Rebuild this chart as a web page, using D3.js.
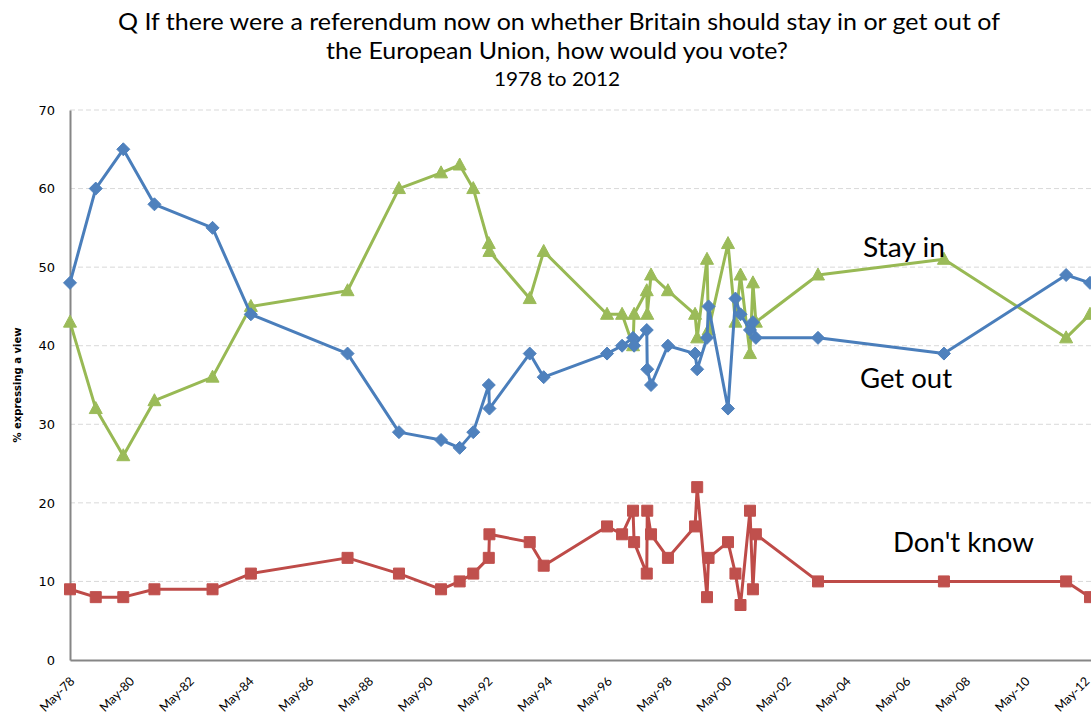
<!DOCTYPE html>
<html>
<head>
<meta charset="utf-8">
<script src="https://cdn.jsdelivr.net/npm/d3@7"></script>
<style>
  html, body { margin: 0; padding: 0; background: #fff; }
  svg { display: block; }
</style>
</head>
<body>
<svg id="chart" width="1091" height="715"></svg>
<script>
// ---- data ----
const surveyDates = ["1978-05-01","1979-03-12","1980-02-12","1981-02-27","1983-02-08","1984-05-22",
  "1987-08-18","1989-05-08","1990-10-05","1991-05-21","1991-11-03","1992-05-11","1992-05-19",
  "1993-09-24","1994-03-14","1996-04-27","1996-10-28","1997-03-11","1997-03-24","1997-08-26",
  "1997-09-01","1997-10-17","1998-05-12","1999-04-09","1999-05-05","1999-09-02","1999-09-21",
  "2000-05-16","2000-08-15","2000-10-16","2001-02-09","2001-03-17","2001-04-22","2003-05-22",
  "2007-08-10","2011-09-13","2012-07-01"];
const getOut   = [48,60,65,58,55,44,39,29,28,27,29,35,32,39,36,39,40,41,40,42,37,35,40,39,37,41,45,32,46,44,42,43,41,41,39,49,48];
const stayIn   = [43,32,26,33,36,45,47,60,62,63,60,53,52,46,52,44,44,40,44,47,44,49,47,44,41,51,42,53,43,49,39,48,43,49,51,41,44];
const dontKnow = [ 9, 8, 8, 9, 9,11,13,11, 9,10,11,13,16,15,12,17,16,19,15,11,19,16,13,17,22, 8,13,15,11, 7,19, 9,16,10,10,10, 8];
const xTickLabels = ["May-78","May-80","May-82","May-84","May-86","May-88","May-90","May-92","May-94",
  "May-96","May-98","May-00","May-02","May-04","May-06","May-08","May-10","May-12"];
const yTicks = [0,10,20,30,40,50,60,70];
const titleLines = ["Q If there were a referendum  now on whether Britain should stay in or get out of",
  "the European Union, how would you vote?"];
const subTitle = "1978 to 2012";
const seriesNames = ["Stay in","Get out","Don't know"];

// ---- layout ----
const W = 1091, H = 715;
const svg = d3.select("#chart");
const parse = d3.timeParse("%Y-%m-%d");
const parseTick = d3.timeParse("%b-%y");
const dates = surveyDates.map(parse);

const x = d3.scaleTime()
  .domain([parse("1978-05-01"), parse("2012-05-01")])
  .range([70, 1085]);
const xAxisScale = x.copy().domain([x.invert(70), x.invert(W + 10)]).range([70, W + 10]);
const y = d3.scaleLinear().domain([0, 70]).range([660, 110]);

// gridlines
svg.append("g").selectAll("line").data(yTicks.filter(d => d > 0)).join("line")
  .attr("x1", 70).attr("x2", W)
  .attr("y1", d => y(d)).attr("y2", d => y(d))
  .attr("stroke", "#d9d9d9").attr("stroke-width", 1).attr("stroke-dasharray", "5,3");

// y axis
const yAxis = svg.append("g").attr("transform", "translate(70,0)")
  .call(d3.axisLeft(y).tickValues(yTicks).tickSize(0).tickPadding(15));
yAxis.select(".domain").attr("stroke", "#868686").attr("stroke-width", 2);
yAxis.selectAll("text").attr("font-family", "DejaVu Sans, Verdana, sans-serif")
  .attr("font-size", 13).attr("fill", "#000");

// x axis
const xAxis = svg.append("g").attr("transform", "translate(0,660)")
  .call(d3.axisBottom(xAxisScale).tickValues(xTickLabels.map(parseTick)).tickSize(0)
    .tickFormat(d => d3.timeFormat("%b-%y")(d)));
xAxis.select(".domain").attr("stroke", "#868686").attr("stroke-width", 2);
xAxis.selectAll("text")
  .attr("font-family", "Lato, 'Open Sans', sans-serif").attr("font-size", 12.5).attr("fill", "#000")
  .attr("text-anchor", "end")
  .attr("dy", 0)
  .attr("transform", "translate(5,22) rotate(-45)")
  .attr("y", 0);

// y axis title
svg.append("text")
  .attr("transform", `translate(21,${y(35)}) rotate(-90)`)
  .attr("text-anchor", "middle")
  .attr("font-family", "DejaVu Sans, Verdana, sans-serif")
  .attr("font-size", 10).attr("font-weight", "bold")
  .text("% expressing a view");

// series
const series = [
  {name: "Don't know", values: dontKnow, line: "#BE4B48", fill: "#C0504D", shape: "square"},
  {name: "Stay in", values: stayIn, line: "#98B954", fill: "#9BBB59", shape: "triangle"},
  {name: "Get out", values: getOut, line: "#4A7EBB", fill: "#4F81BD", shape: "diamond"}
];
const shapes = {
  square: "M-5.5,-5.5H5.5V5.5H-5.5Z",
  triangle: "M0,-7L6.5,5L-6.5,5Z",
  diamond: "M0,-6.5L6.5,0L0,6.5L-6.5,0Z"
};
const lineGen = d3.line().x(d => x(d[0])).y(d => y(d[1]));
series.forEach(s => {
  const pts = dates.map((d, i) => [d, s.values[i]]);
  const g = svg.append("g");
  g.append("path").datum(pts).attr("d", lineGen)
    .attr("fill", "none").attr("stroke", s.line).attr("stroke-width", 3).attr("stroke-linejoin", "round");
  g.selectAll("path.m").data(pts).join("path").attr("class", "m")
    .attr("d", shapes[s.shape])
    .attr("transform", d => `translate(${x(d[0])},${y(d[1])})`)
    .attr("fill", s.fill).attr("stroke", s.fill).attr("stroke-width", 1);
});

// title
const tf = "Lato, 'Open Sans', sans-serif";
svg.append("text").attr("x", 559).attr("y", 30).attr("text-anchor", "middle")
  .attr("font-family", tf).attr("font-size", 23)
  .attr("textLength", 882).attr("lengthAdjust", "spacingAndGlyphs").text(titleLines[0]);
svg.append("text").attr("x", 557).attr("y", 59).attr("text-anchor", "middle")
  .attr("font-family", tf).attr("font-size", 23)
  .attr("textLength", 462).attr("lengthAdjust", "spacingAndGlyphs").text(titleLines[1]);
svg.append("text").attr("x", 557).attr("y", 86).attr("text-anchor", "middle")
  .attr("font-family", tf).attr("font-size", 20)
  .attr("textLength", 126).attr("lengthAdjust", "spacingAndGlyphs").text(subTitle);

// annotations
const ann = [
  {t: seriesNames[0], x: 863, y: 257, w: 82},
  {t: seriesNames[1], x: 860, y: 388, w: 92},
  {t: seriesNames[2], x: 893, y: 552, w: 141}
];
svg.append("g").selectAll("text").data(ann).join("text")
  .attr("x", d => d.x).attr("y", d => d.y)
  .attr("font-family", tf).attr("font-size", 26).attr("fill", "#000")
  .attr("textLength", d => d.w).attr("lengthAdjust", "spacingAndGlyphs")
  .text(d => d.t);
</script>
</body>
</html>
